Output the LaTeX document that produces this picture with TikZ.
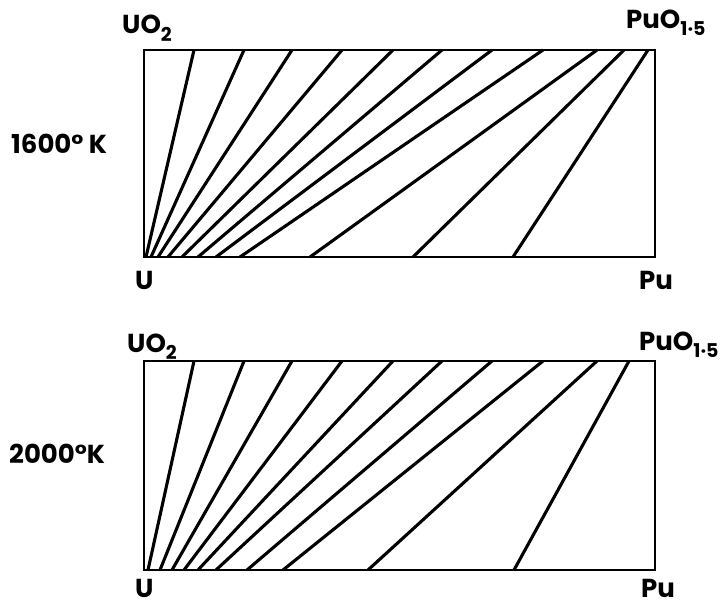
\documentclass[tikz,border=0pt]{standalone}
\usepackage{fontspec}
\setmainfont{Poppins}
\begin{document}
\begin{tikzpicture}[x=1pt,y=-1pt,
  frame/.style={line width=2pt, line join=miter},
  tie/.style={line width=3.1pt},
  lab/.style={font=\fontsize{26}{28}\selectfont\bfseries, inner sep=0pt, anchor=base west}]
\useasboundingbox[fill=white] (0,0) rectangle (723,605);
\newcommand{\subtxt}[1]{\raisebox{-0.3em}{\fontsize{19}{20}\selectfont #1}}
% ---------- top diagram (1600 K)
\draw[frame] (144,50) rectangle (655,257);
\foreach \t/\b in {194/146, 244/151, 292/158, 342/168, 393/182, 442/198, 492/216, 543/240, 597/310, 624/413, 648/513}
  \draw[tie] (\t,50) -- (\b,257);
\node[lab] (uo2a) at (122,34) {UO\subtxt{2}};
\node[lab] (puoa) at (626,28) {PuO\subtxt{1·5}};
\node[lab] (ta) at (11,153) {1600° K};
\node[lab] (ua) at (135,289) {U};
\node[lab] (pua) at (639,289) {Pu};
% ---------- bottom diagram (2000 K)
\draw[frame] (144,361) rectangle (655,570);
\foreach \t/\b in {194/148, 244/160, 292/172, 342/184, 393/198, 442/216, 492/247, 543/283, 597/368, 629/514}
  \draw[tie] (\t,361) -- (\b,570);
\node[lab] (uo2b) at (127,352) {UO\subtxt{2}};
\node[lab] (puob) at (639,350) {PuO\subtxt{1·5}};
\node[lab] (tb) at (9,463) {2000°K};
\node[lab] (ub) at (135,597) {U};
\node[lab] (pub) at (641,597) {Pu};
\end{tikzpicture}
\end{document}
